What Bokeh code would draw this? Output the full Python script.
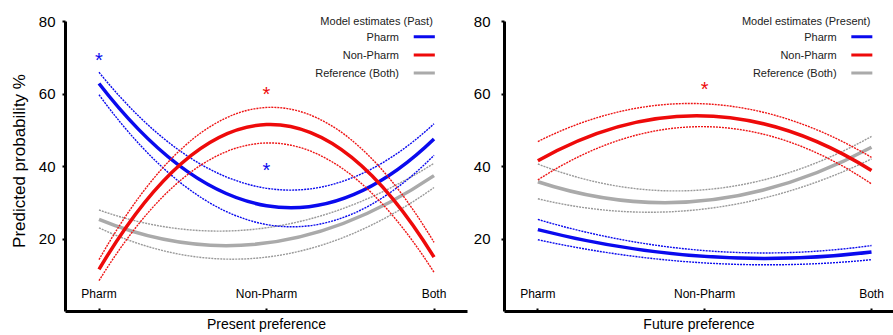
from bokeh.plotting import figure
from bokeh.models import Range1d, FixedTicker, ColumnDataSource
from bokeh.layouts import row
from bokeh.core.properties import value
from bokeh.embed import file_html
from bokeh.resources import INLINE

# ---------------- data ----------------
categories = ["Pharm", "Non-Pharm", "Both"]
y_ticks = [20, 40, 60, 80]
series_names = ["Pharm", "Non-Pharm", "Reference (Both)"]

# Left panel: Model estimates (Past), x = Present preference
past_pharm = [62.9, 29.2, 47.6]
past_pharm_hi = [66.0, 34.0, 51.8]
past_pharm_lo = [59.8, 24.0, 43.1]
past_nonpharm = [11.6, 51.6, 15.0]
past_nonpharm_hi = [14.3, 56.3, 19.1]
past_nonpharm_lo = [8.5, 46.5, 10.8]
past_ref = [25.4, 18.9, 37.5]
past_ref_hi = [28.0, 23.1, 40.9]
past_ref_lo = [23.1, 15.0, 34.2]
past_star_cat = ["Pharm", "Non-Pharm", "Non-Pharm"]
past_star_series = ["Pharm", "Non-Pharm", "Pharm"]
past_star_y = [70.1, 60.9, 39.8]

# Right panel: Model estimates (Present), x = Future preference
present_pharm = [22.6, 15.2, 16.4]
present_pharm_hi = [25.4, 16.8, 18.2]
present_pharm_lo = [19.8, 13.4, 14.3]
present_nonpharm = [41.6, 54.0, 38.9]
present_nonpharm_hi = [46.9, 57.3, 42.5]
present_nonpharm_lo = [36.3, 51.0, 35.2]
present_ref = [35.8, 30.6, 45.3]
present_ref_hi = [40.7, 33.6, 48.3]
present_ref_lo = [31.1, 28.3, 42.1]
present_star_cat = ["Non-Pharm"]
present_star_series = ["Non-Pharm"]
present_star_y = [62.3]

# ---------------- styling ----------------
FONT_NAME = "Liberation Sans"
FONT = value(FONT_NAME)
SOLID = {"Pharm": "#0a0aee", "Non-Pharm": "#ee0a0a", "Reference (Both)": "#aaaaaa"}
DOT = {"Pharm": "#0a0aee", "Non-Pharm": "#ee1515", "Reference (Both)": "#999999"}
PX_PER_UNIT_X = 167.25


def quad_source(vals):
    pos = list(range(len(categories)))
    v0, v1, v2 = vals
    return ColumnDataSource(dict(
        x0=[pos[0]], y0=[v0], x1=[pos[2]], y1=[v2],
        cx=[pos[1]], cy=[2 * v1 - (v0 + v2) / 2.0]))


def make_panel(width, min_left, min_right, x_end, xtitle, legend_title, curves,
               star_cat, star_series, star_y, ylabel=None, label_standoff=7):
    p = figure(width=width, height=335, output_backend="svg", toolbar_location=None,
               x_range=Range1d(-0.2, x_end), y_range=Range1d(0, 83.05),
               min_border_left=min_left, min_border_right=min_right,
               min_border_top=10, min_border_bottom=24)
    p.outline_line_color = None
    p.grid.visible = False
    p.background_fill_color = "white"
    p.border_fill_color = "white"

    # y axis
    ya = p.yaxis[0]
    ya.ticker = FixedTicker(ticks=y_ticks)
    ya.bounds = (0, 80)
    ya.axis_line_width = 3
    ya.major_tick_line_width = 2
    ya.major_tick_out = 3
    ya.major_tick_in = 0
    ya.minor_tick_line_color = None
    ya.major_label_standoff = label_standoff
    ya.major_label_text_font = FONT_NAME
    ya.major_label_text_font_size = "15px"
    ya.major_label_text_color = "black"
    if ylabel:
        ya.axis_label = ylabel
        ya.axis_label_text_font = FONT_NAME
        ya.axis_label_text_font_size = "17px"
        ya.axis_label_text_font_style = "normal"
        ya.axis_label_text_color = "black"
        ya.axis_label_standoff = 7

    # x axis: category labels sit inside the plot, above the axis line
    xa = p.xaxis[0]
    pos = list(range(len(categories)))
    xa.ticker = FixedTicker(ticks=pos)
    xa.major_label_overrides = {i: c for i, c in zip(pos, categories)}
    xa.axis_line_width = 3
    xa.major_tick_line_width = 2
    xa.major_tick_in = 3
    xa.major_tick_out = 0
    xa.minor_tick_line_color = None
    xa.major_label_standoff = -25
    xa.major_label_text_font = FONT_NAME
    xa.major_label_text_font_size = "12px"
    xa.major_label_text_color = "black"
    xa.axis_label = xtitle
    xa.axis_label_text_font = FONT_NAME
    xa.axis_label_text_font_size = "14px"
    xa.axis_label_text_font_style = "normal"
    xa.axis_label_text_color = "black"
    xa.axis_label_standoff = 12

    # curves: draw reference, then Pharm, then Non-Pharm
    for name in ["Reference (Both)", "Pharm", "Non-Pharm"]:
        mid, hi, lo = curves[name]
        for vals in (hi, lo):
            p.quadratic(x0="x0", y0="y0", x1="x1", y1="y1", cx="cx", cy="cy",
                        source=quad_source(vals), line_color=DOT[name],
                        line_width=1.4, line_dash="2 1")
        p.quadratic(x0="x0", y0="y0", x1="x1", y1="y1", cx="cx", cy="cy",
                    source=quad_source(mid), line_color=SOLID[name], line_width=3.5)

    # significance stars
    sx = [categories.index(c) for c in star_cat]
    sc = [SOLID[s] for s in star_series]
    p.text(x=sx, y=star_y, text=["*"] * len(sx), text_color=sc,
           text_align="center", text_baseline="middle", text_font=FONT,
           text_font_size="20px", y_offset=3)

    # legend (drawn manually: right-aligned labels, line sample at the right)
    right_text_x = 1.993
    item_text_x = 1.791
    seg_x0, seg_x1 = 1.879, 2.005
    ys = [80.2, 75.8, 70.8, 65.8]
    p.text(x=[right_text_x], y=[ys[0]], text=[legend_title], text_align="right",
           text_baseline="middle", text_font=FONT, text_font_size="11px",
           text_color="#222222")
    p.text(x=[item_text_x] * 3, y=ys[1:], text=series_names, text_align="right",
           text_baseline="middle", text_font=FONT, text_font_size="11px",
           text_color="#222222")
    p.segment(x0=[seg_x0] * 3, x1=[seg_x1] * 3, y0=ys[1:], y1=ys[1:],
              line_color=[SOLID[n] for n in series_names], line_width=3)
    return p


left = make_panel(
    470, 65, 3, 2.2, "Present preference", "Model estimates (Past)",
    {"Pharm": (past_pharm, past_pharm_hi, past_pharm_lo),
     "Non-Pharm": (past_nonpharm, past_nonpharm_hi, past_nonpharm_lo),
     "Reference (Both)": (past_ref, past_ref_hi, past_ref_lo)},
    past_star_cat, past_star_series, past_star_y,
    ylabel="Predicted probability %", label_standoff=7)

right = make_panel(
    423, 33, 0, -0.2 + 390 / PX_PER_UNIT_X, "Future preference", "Model estimates (Present)",
    {"Pharm": (present_pharm, present_pharm_hi, present_pharm_lo),
     "Non-Pharm": (present_nonpharm, present_nonpharm_hi, present_nonpharm_lo),
     "Reference (Both)": (present_ref, present_ref_hi, present_ref_lo)},
    present_star_cat, present_star_series, present_star_y,
    ylabel=None, label_standoff=11)

layout = row(left, right, spacing=0)
open("out.html", "w").write(file_html(layout, INLINE))
